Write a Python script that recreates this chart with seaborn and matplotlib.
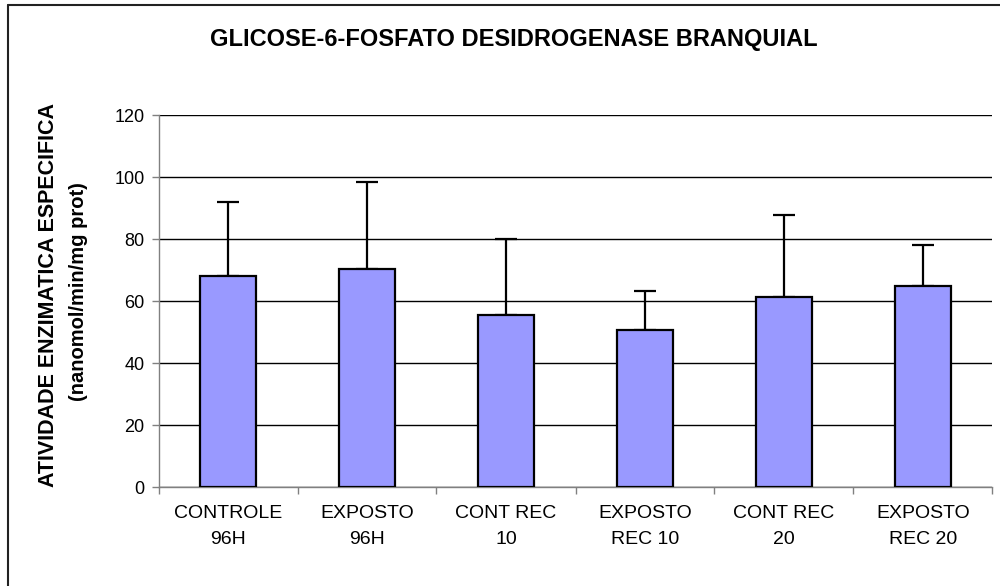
import matplotlib
matplotlib.use("Agg")
import matplotlib.pyplot as plt
import seaborn as sns
import pandas as pd
import numpy as np
from matplotlib.transforms import Bbox
from matplotlib.lines import Line2D

categories = ["CONTROLE\n96H", "EXPOSTO\n96H", "CONT REC\n10", "EXPOSTO\nREC 10", "CONT REC\n20", "EXPOSTO\nREC 20"]
means = [68.3, 70.3, 55.5, 50.7, 61.4, 65.0]
errors = [23.8, 28.3, 24.5, 12.5, 26.3, 13.1]
yticks = [0, 20, 40, 60, 80, 100, 120]

sns.set_theme(style="white")
plt.rcParams['font.family'] = ['Liberation Sans', 'DejaVu Sans']
plt.rcParams['text.color'] = 'black'

fig = plt.figure(figsize=(10, 5.86), dpi=100)
ax = fig.add_axes([0.1585, 0.1684, 0.834, 0.6348])

df = pd.DataFrame({"cat": categories, "val": means})
sns.barplot(data=df, x="cat", y="val", color="#9999FF", saturation=1, width=0.41,
            edgecolor="black", linewidth=1.6, errorbar=None, ax=ax, zorder=3)
ax.errorbar(x=np.arange(len(means)), y=means, yerr=[np.zeros(len(means)), errors],
            fmt="none", ecolor="black", elinewidth=1.6, capsize=8, capthick=1.6, zorder=2)

ax.set_ylim(0, 120)
ax.set_xlim(-0.5, len(categories) - 0.5)
ax.set_yticks(yticks)
ax.set_yticklabels([str(t) for t in yticks], fontsize=13)
ax.yaxis.grid(True, color="black", linewidth=1)
ax.set_axisbelow(True)
for s in ["top", "right"]:
    ax.spines[s].set_visible(False)
ax.spines["left"].set_color("#808080")
ax.spines["bottom"].set_color("#808080")
ax.spines["left"].set_linewidth(1)
ax.spines["bottom"].set_linewidth(1)

ax.tick_params(axis="y", which="major", length=5, width=1, color="#808080", labelcolor="black",
               direction="out", left=True, pad=5)
ax.set_xticks(np.arange(len(categories)))
ax.set_xticklabels(categories, fontsize=14, linespacing=1.7)
ax.tick_params(axis="x", which="major", length=0, pad=13, labelcolor="black")
ax.set_xticks(np.arange(len(categories) + 1) - 0.5, minor=True)
ax.tick_params(axis="x", which="minor", length=5, width=1, color="#808080", direction="out", bottom=True)
ax.set_xlabel("")
ax.set_ylabel("")

fig.text(0.514, 1 - 45.7 / 586, "GLICOSE-6-FOSFATO DESIDROGENASE BRANQUIAL", ha="center", va="baseline",
         fontsize=17, fontweight="bold", color="black")

clip = Bbox.from_extents(0, 0, 1000, 586 - 103)
t1 = fig.text(0.049, 1 - 487 / 586, "ATIVIDADE ENZIMATICA ESPECIFICA", rotation=90, ha="center", va="bottom",
              fontsize=15.5, fontweight="bold", color="black")
t1.set_clip_box(clip)
t1.set_clip_on(True)
fig.text(0.079, 1 - 292 / 586, "(nanomol/min/mg prot)", rotation=90, ha="center", va="center",
         fontsize=14.5, fontweight="bold", color="black")

fig.add_artist(Line2D([0.008, 0.008], [0, 1 - 5 / 586], transform=fig.transFigure, color="#222222", linewidth=1.5))
fig.add_artist(Line2D([0.008, 1], [1 - 5 / 586, 1 - 5 / 586], transform=fig.transFigure, color="#222222", linewidth=1.5))

fig.savefig("out.png", dpi=100)
